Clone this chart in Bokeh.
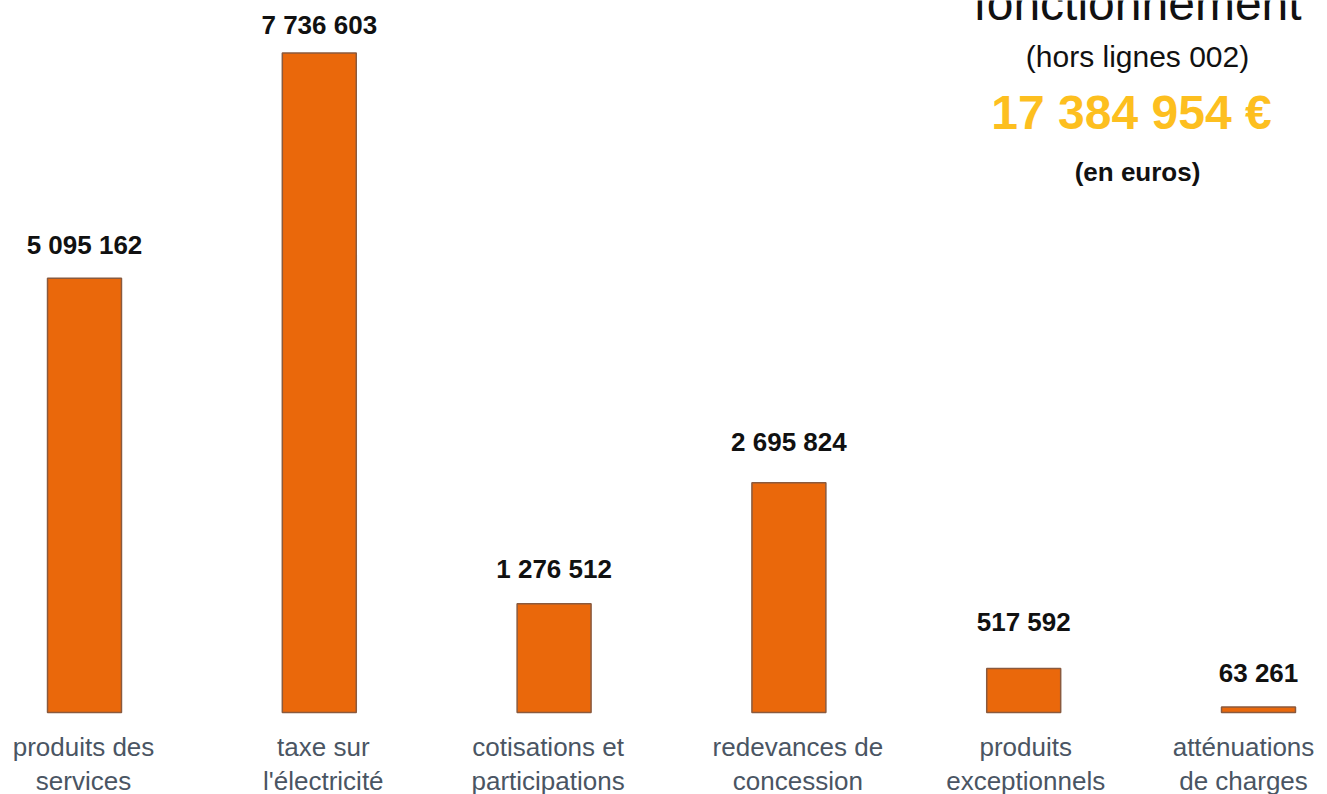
from bokeh.plotting import figure
from bokeh.models import Range1d, Label, ColumnDataSource
from bokeh.core.properties import value
from bokeh.embed import file_html
from bokeh.resources import INLINE

# ---- data ----
categories = [
    "produits des\nservices",
    "taxe sur\nl'électricité",
    "cotisations et\nparticipations",
    "redevances de\nconcession",
    "produits\nexceptionnels",
    "atténuations\nde charges",
]
values = [5095162, 7736603, 1276512, 2695824, 517592, 63261]
title_main = "fonctionnement"
title_sub = "(hors lignes 002)"
total_label = "17 384 954 €"
unit_label = "(en euros)"

# ---- layout constants (pixels) ----
W, H = 1327, 794
PX_PER_CAT = 234.8
X0 = 84          # pixel x of first bar centre
BASE = 712       # pixel y of the zero line
UNITS_PER_PX = 11731

def dx(px):
    return (px - X0) / PX_PER_CAT

def dy(py):
    return (BASE - py) * UNITS_PER_PX

FONT = "Liberation Sans"
BAR_FILL = "#EA680B"
BAR_LINE = "#8A5A3E"
CAT_COLOR = "#4A5563"

idx = list(range(len(values)))
value_labels = [f"{v:,}".replace(",", " ") for v in values]
line1 = [c.split("\n")[0] for c in categories]
line2 = [c.split("\n")[1] for c in categories]
cat_dx = [-1, 4, -6, 9, 2, -15]
val_dy = [-33, -28, -35, -41, -46, -34]

src = ColumnDataSource(dict(x=idx, top=values, vlab=value_labels,
                            l1=line1, l2=line2,
                            zero=[0] * len(values), cdx=cat_dx, vdy=val_dy))

p = figure(width=W, height=H, output_backend="svg", toolbar_location=None,
           x_range=Range1d(dx(0), dx(W)), y_range=Range1d(dy(H), dy(0)),
           x_axis_location=None, y_axis_location=None, min_border=0, tools="")
p.grid.visible = False
p.outline_line_color = None
p.background_fill_color = "white"

p.vbar(x="x", top="top", width=0.315, source=src,
       fill_color=BAR_FILL, line_color=BAR_LINE, line_width=1.5)

p.text(x="x", y="top", text="vlab", source=src, y_offset="vdy",
       text_align="center", text_baseline="alphabetic",
       text_font=value(FONT), text_font_size="26px", text_font_style="bold",
       text_color="#111111")

for col, off in [("l1", 34), ("l2", 68)]:
    p.text(x="x", y="zero", text=col, source=src, x_offset="cdx", y_offset=off,
           text_align="center", text_baseline="alphabetic",
           text_font=value(FONT), text_font_size="26px", text_color=CAT_COLOR)

tx = dx(1137)
for txt, py, size, style, color, xo in [
    (title_main, 3, "48px", "normal", "#111111", 0),
    (title_sub, 56, "30px", "normal", "#111111", 0),
    (total_label, 112, "48px", "bold", "#FDBF1F", -6),
    (unit_label, 171, "26px", "bold", "#111111", 0),
]:
    p.add_layout(Label(x=tx, y=dy(py), text=txt, x_offset=xo,
                       text_align="center", text_baseline="alphabetic",
                       text_font=FONT, text_font_size=size,
                       text_font_style=style, text_color=color))

open("out.html", "w").write(file_html(p, INLINE))
